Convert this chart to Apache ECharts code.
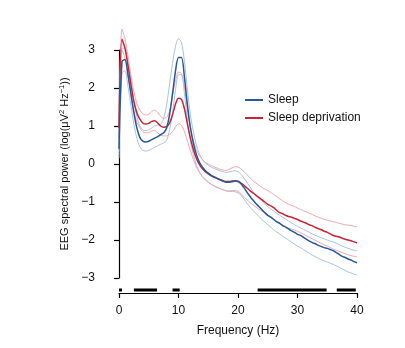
<!DOCTYPE html>
<html>
<head>
<meta charset="utf-8">
<script src="https://cdn.jsdelivr.net/npm/echarts@6/dist/echarts.min.js"></script>
<style>
  html, body { margin: 0; padding: 0; background: #fff; }
  #chart { width: 405px; height: 348px; }
</style>
</head>
<body>
<div id="chart"></div>
<script>
// Spectra sampled every 0.5 Hz from 0 to 40 Hz
const freqStep = 0.5;
const freqs = Array.from({ length: 81 }, (_, i) => i * freqStep);

// Sleep: mean and confidence bounds (log power)
const sleepMean = [
  0.40, 2.70, 2.75, 2.35, 1.85, 1.35, 0.95, 0.70, 0.60, 0.58,
  0.60, 0.64, 0.68, 0.72, 0.77, 0.82, 0.95, 1.30, 1.85, 2.45,
  2.80, 2.80, 2.28, 1.55, 0.95, 0.55, 0.25, 0.05, -0.08, -0.17,
  -0.24, -0.30, -0.34, -0.38, -0.42, -0.45, -0.48, -0.48, -0.47, -0.45,
  -0.46, -0.52, -0.62, -0.74, -0.85, -0.95, -1.04, -1.12, -1.20, -1.28,
  -1.35, -1.40, -1.46, -1.52, -1.56, -1.62, -1.66, -1.71, -1.76, -1.80,
  -1.85, -1.88, -1.93, -1.98, -2.03, -2.07, -2.10, -2.14, -2.17, -2.20,
  -2.22, -2.25, -2.28, -2.33, -2.38, -2.43, -2.46, -2.50, -2.53, -2.57,
  -2.60
];
const sleepUpper = [
  0.65, 3.05, 3.05, 2.65, 2.15, 1.65, 1.25, 1.00, 0.90, 0.88,
  0.90, 0.95, 1.00, 1.02, 1.05, 1.20, 1.55, 2.10, 2.65, 3.10,
  3.30, 3.20, 2.70, 1.95, 1.30, 0.85, 0.50, 0.27, 0.12, 0.03,
  -0.03, -0.08, -0.12, -0.15, -0.18, -0.20, -0.22, -0.21, -0.19, -0.18,
  -0.20, -0.27, -0.37, -0.48, -0.60, -0.72, -0.82, -0.90, -0.98, -1.05,
  -1.12, -1.18, -1.24, -1.30, -1.35, -1.40, -1.45, -1.50, -1.55, -1.60,
  -1.64, -1.68, -1.72, -1.76, -1.80, -1.84, -1.88, -1.91, -1.94, -1.97,
  -2.00, -2.03, -2.05, -2.08, -2.12, -2.16, -2.19, -2.22, -2.25, -2.27,
  -2.29
];
const sleepLower = [
  0.15, 2.40, 2.45, 2.05, 1.55, 1.05, 0.68, 0.45, 0.36, 0.34,
  0.36, 0.40, 0.44, 0.48, 0.52, 0.55, 0.62, 0.90, 1.35, 1.95,
  2.35, 2.35, 1.85, 1.15, 0.60, 0.25, -0.02, -0.20, -0.32, -0.40,
  -0.47, -0.53, -0.57, -0.61, -0.65, -0.68, -0.71, -0.72, -0.72, -0.73,
  -0.76, -0.82, -0.92, -1.03, -1.13, -1.22, -1.30, -1.38, -1.46, -1.53,
  -1.60, -1.66, -1.73, -1.79, -1.84, -1.90, -1.95, -2.00, -2.06, -2.11,
  -2.16, -2.20, -2.25, -2.30, -2.35, -2.40, -2.44, -2.48, -2.52, -2.55,
  -2.58, -2.61, -2.64, -2.68, -2.72, -2.76, -2.80, -2.84, -2.87, -2.90,
  -2.92
];

// Sleep deprivation: mean and confidence bounds (log power)
const deprivMean = [
  0.95, 3.28, 3.05, 2.60, 2.10, 1.65, 1.35, 1.18, 1.08, 1.05,
  1.07, 1.12, 1.14, 1.08, 1.00, 0.97, 0.98, 1.08, 1.30, 1.58,
  1.73, 1.70, 1.45, 1.05, 0.68, 0.38, 0.15, -0.01, -0.12, -0.20,
  -0.26, -0.31, -0.35, -0.38, -0.41, -0.44, -0.46, -0.46, -0.45, -0.44,
  -0.45, -0.50, -0.56, -0.63, -0.70, -0.76, -0.82, -0.88, -0.94, -1.00,
  -1.06, -1.10, -1.15, -1.22, -1.28, -1.31, -1.35, -1.38, -1.40, -1.43,
  -1.46, -1.50, -1.53, -1.56, -1.60, -1.63, -1.67, -1.70, -1.73, -1.77,
  -1.80, -1.84, -1.88, -1.90, -1.92, -1.95, -1.98, -2.00, -2.02, -2.05,
  -2.07
];
const deprivUpper = [
  1.25, 3.55, 3.30, 2.85, 2.35, 1.90, 1.60, 1.42, 1.32, 1.29,
  1.31, 1.38, 1.42, 1.36, 1.25, 1.20, 1.22, 1.40, 1.80, 2.20,
  2.42, 2.38, 2.00, 1.45, 0.98, 0.62, 0.38, 0.22, 0.12, 0.05,
  0.00, -0.04, -0.08, -0.11, -0.14, -0.16, -0.17, -0.14, -0.10, -0.07,
  -0.08, -0.13, -0.20, -0.28, -0.36, -0.44, -0.50, -0.56, -0.61, -0.66,
  -0.70, -0.75, -0.80, -0.86, -0.92, -0.97, -1.02, -1.06, -1.09, -1.12,
  -1.16, -1.20, -1.23, -1.26, -1.30, -1.33, -1.37, -1.40, -1.43, -1.46,
  -1.48, -1.50, -1.52, -1.54, -1.56, -1.58, -1.60, -1.61, -1.62, -1.64,
  -1.65
];
const deprivLower = [
  0.70, 3.00, 2.80, 2.35, 1.85, 1.40, 1.10, 0.95, 0.85, 0.82,
  0.83, 0.87, 0.88, 0.82, 0.76, 0.74, 0.74, 0.78, 0.85, 0.98,
  1.06, 1.02, 0.85, 0.60, 0.35, 0.12, -0.08, -0.22, -0.33, -0.42,
  -0.48, -0.54, -0.58, -0.62, -0.65, -0.68, -0.70, -0.71, -0.70, -0.70,
  -0.72, -0.78, -0.86, -0.94, -1.01, -1.07, -1.13, -1.19, -1.24, -1.29,
  -1.34, -1.39, -1.44, -1.50, -1.56, -1.61, -1.65, -1.69, -1.71, -1.74,
  -1.77, -1.81, -1.85, -1.89, -1.93, -1.97, -2.01, -2.05, -2.09, -2.13,
  -2.16, -2.20, -2.24, -2.27, -2.30, -2.33, -2.36, -2.39, -2.41, -2.43,
  -2.44
];

// Frequency ranges where the two conditions differ significantly (Hz)
const sigRanges = [[0, 0.5], [2.5, 6.4], [9, 10.2], [23.3, 34.9], [36.6, 39.8]];

const yTicks = [-3, -2, -1, 0, 1, 2, 3];
const xTicks = [0, 10, 20, 30, 40];

const BLUE = '#23599b';
const RED = '#cc2236';
const LIGHT_BLUE = '#a9c3e0';
const PINK = '#efa8b2';
const FONT = 'Liberation Sans, Arial, Helvetica, sans-serif';

const pairs = (ys) => freqs.map((f, i) => [f, ys[i]]);

function curve(name, ys, color, width, z) {
  return {
    name, type: 'line', xAxisIndex: 0, yAxisIndex: 0,
    data: pairs(ys), showSymbol: false, symbol: 'none',
    smooth: 0.3, clip: false, z,
    lineStyle: { color, width }, itemStyle: { color },
    emphasis: { disabled: true }, silent: true
  };
}

const series = [
  curve('Sleep upper', sleepUpper, LIGHT_BLUE, 1, 2),
  curve('Sleep lower', sleepLower, LIGHT_BLUE, 1, 2),
  curve('Deprivation upper', deprivUpper, PINK, 1, 2),
  curve('Deprivation lower', deprivLower, PINK, 1, 2),
  curve('Sleep', sleepMean, BLUE, 1.5, 4),
  curve('Sleep deprivation', deprivMean, RED, 1.5, 3)
];

sigRanges.forEach((r, k) => {
  series.push({
    name: 'sig' + k, type: 'line', xAxisIndex: 1, yAxisIndex: 1,
    data: [[r[0], 0.3], [r[1], 0.3]], showSymbol: false, symbol: 'none',
    clip: false, silent: true,
    lineStyle: { color: '#000', width: 3, cap: 'butt' }
  });
});

const chart = echarts.init(document.getElementById('chart'), null, { renderer: 'canvas' });
chart.setOption({
  animation: false,
  backgroundColor: '#fff',
  textStyle: { fontFamily: FONT },
  grid: [
    { left: 119, width: 238, top: 50, height: 228 },
    { left: 119, width: 238, top: 283, height: 10 }
  ],
  legend: {
    data: ['Sleep', 'Sleep deprivation'],
    orient: 'vertical',
    left: 240, top: 89,
    icon: 'rect', itemWidth: 18, itemHeight: 2, itemGap: 6,
    textStyle: { fontSize: 12, color: '#111', fontFamily: FONT },
    selectedMode: false
  },
  xAxis: [
    { gridIndex: 0, type: 'value', min: 0, max: 40, show: false },
    {
      gridIndex: 1, type: 'value', min: 0, max: 40, interval: 10,
      position: 'bottom',
      name: 'Frequency (Hz)', nameLocation: 'middle', nameGap: 32,
      nameTextStyle: { fontSize: 12, color: '#111', fontFamily: FONT },
      axisLine: { show: true, lineStyle: { color: '#000', width: 1.2 } },
      axisTick: { show: true, length: 5, inside: false, lineStyle: { color: '#000', width: 1.2 } },
      axisLabel: { fontSize: 12, color: '#111', margin: 12, fontFamily: FONT,
        formatter: (v) => xTicks.includes(v) ? String(v) : '' },
      splitLine: { show: false }
    }
  ],
  yAxis: [
    {
      gridIndex: 0, type: 'value', min: -3, max: 3, interval: 1,
      offset: 10,
      name: 'EEG spectral power (log(μV{sup|2} Hz{sup|−1}))',
      nameLocation: 'middle', nameGap: 37, nameRotate: 90,
      nameTextStyle: {
        fontSize: 11, color: '#111', fontFamily: FONT,
        rich: { sup: { fontSize: 7.5, verticalAlign: 'top', padding: [0, 0, 6, 0], color: '#111', fontFamily: FONT } }
      },
      axisLine: { show: true, lineStyle: { color: '#000', width: 1.2 } },
      axisTick: { show: true, length: 5, inside: false, lineStyle: { color: '#000', width: 1.2 } },
      axisLabel: { fontSize: 12, color: '#111', margin: 14, fontFamily: FONT,
        formatter: (v) => yTicks.includes(v) ? String(v).replace('-', '\u2212') : '' },
      splitLine: { show: false }
    },
    { gridIndex: 1, type: 'value', min: 0, max: 1, show: false }
  ],
  series
});
</script>
</body>
</html>
